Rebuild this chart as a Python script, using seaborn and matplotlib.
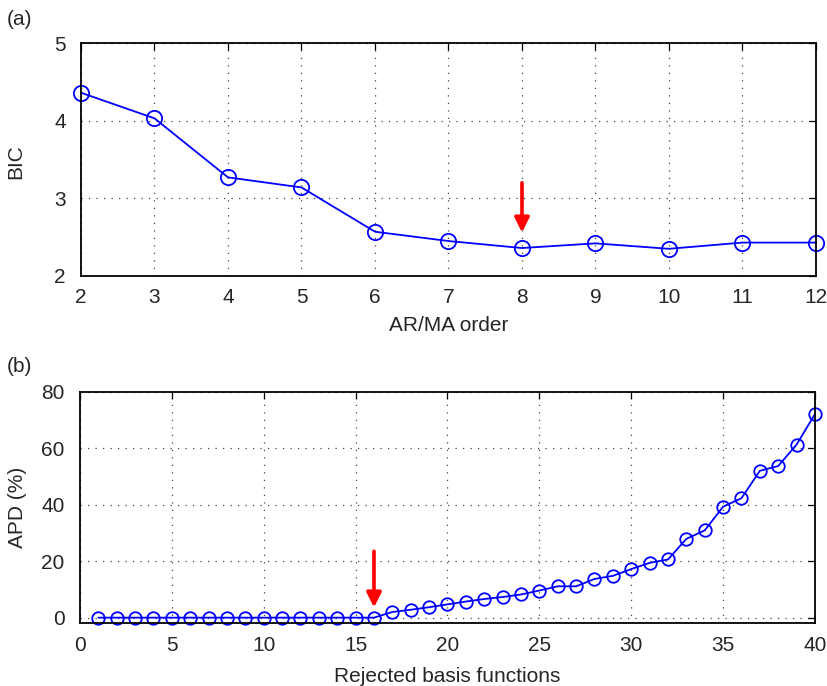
import matplotlib
matplotlib.use("Agg")
import matplotlib.pyplot as plt
import seaborn as sns
import pandas as pd

# panel (a): BIC vs model order
orders = [2, 3, 4, 5, 6, 7, 8, 9, 10, 11, 12]
bic = [4.36, 4.03, 3.27, 3.14, 2.57, 2.45, 2.36, 2.42, 2.35, 2.43, 2.43]
best_order = 8

# panel (b): APD vs number of rejected basis functions
rejected = list(range(1, 41))
apd = [0.0] * 16 + [2.0, 2.8, 3.7, 4.7, 5.7, 6.6, 7.3, 8.2, 9.6, 11.1,
                    11.1, 13.7, 14.8, 17.2, 19.4, 20.6, 27.9, 30.9, 39.3, 42.3,
                    52.0, 53.7, 61.3, 72.1]
best_rejected = 16

BLUE = "#0000ff"
FS = 15

sns.set_style("white")
plt.rcParams["font.family"] = ["Liberation Sans", "DejaVu Sans"]


def style_axes(ax):
    ax.grid(True, linestyle=(0, (1, 5)), color="#444444", linewidth=0.9)
    ax.tick_params(direction="in", top=True, right=True, labelsize=FS,
                   length=5, width=0.9, color="black")
    ax.tick_params(axis="x", pad=9)
    ax.tick_params(axis="y", pad=11)
    for s in ax.spines.values():
        s.set_color("black")
        s.set_linewidth(1.3)


fig = plt.figure(figsize=(8.28, 6.86), dpi=100)
ax1 = fig.add_axes([0.0978, 0.5977, 0.8877, 0.3396])
ax2 = fig.add_axes([0.0966, 0.0914, 0.8877, 0.3376])

df_a = pd.DataFrame({"order": orders, "bic": bic})
sns.lineplot(data=df_a, x="order", y="bic", ax=ax1, color=BLUE, linewidth=1.3,
             marker="o", markersize=11, markerfacecolor="none",
             markeredgecolor=BLUE, markeredgewidth=1.3, clip_on=False)
ax1.set_xlim(2, 12)
ax1.set_ylim(2, 5)
ax1.set_xticks(orders)
ax1.set_yticks([2, 3, 4, 5])
ax1.set_xlabel("AR/MA order", fontsize=FS, labelpad=6)
ax1.set_ylabel("BIC", fontsize=FS)
ax1.yaxis.set_label_coords(-0.076, 0.49)
style_axes(ax1)
ax1.annotate("", xy=(best_order, 2.56), xytext=(best_order, 3.2),
             arrowprops=dict(arrowstyle="-|>", color="red", lw=2.6,
                             mutation_scale=22, shrinkA=0, shrinkB=0))

df_b = pd.DataFrame({"rejected": rejected, "apd": apd})
sns.lineplot(data=df_b, x="rejected", y="apd", ax=ax2, color=BLUE, linewidth=1.3,
             marker="o", markersize=9, markerfacecolor="none",
             markeredgecolor=BLUE, markeredgewidth=1.3, clip_on=False)
ax2.set_xlim(0, 40)
ax2.set_ylim(-2, 80)
ax2.set_xticks([0, 5, 10, 15, 20, 25, 30, 35, 40])
ax2.set_yticks([0, 20, 40, 60, 80])
ax2.set_xlabel("Rejected basis functions", fontsize=FS, labelpad=9)
ax2.set_ylabel("APD (%)", fontsize=FS)
ax2.yaxis.set_label_coords(-0.072, 0.5)
style_axes(ax2)
ax2.annotate("", xy=(best_rejected, 3.6), xytext=(best_rejected, 23.5),
             arrowprops=dict(arrowstyle="-|>", color="red", lw=2.6,
                             mutation_scale=22, shrinkA=0, shrinkB=0))

fig.text(0.008, 0.972, "(a)", fontsize=FS, va="center")
fig.text(0.008, 0.466, "(b)", fontsize=FS, va="center")

fig.savefig("out.png", dpi=100)
